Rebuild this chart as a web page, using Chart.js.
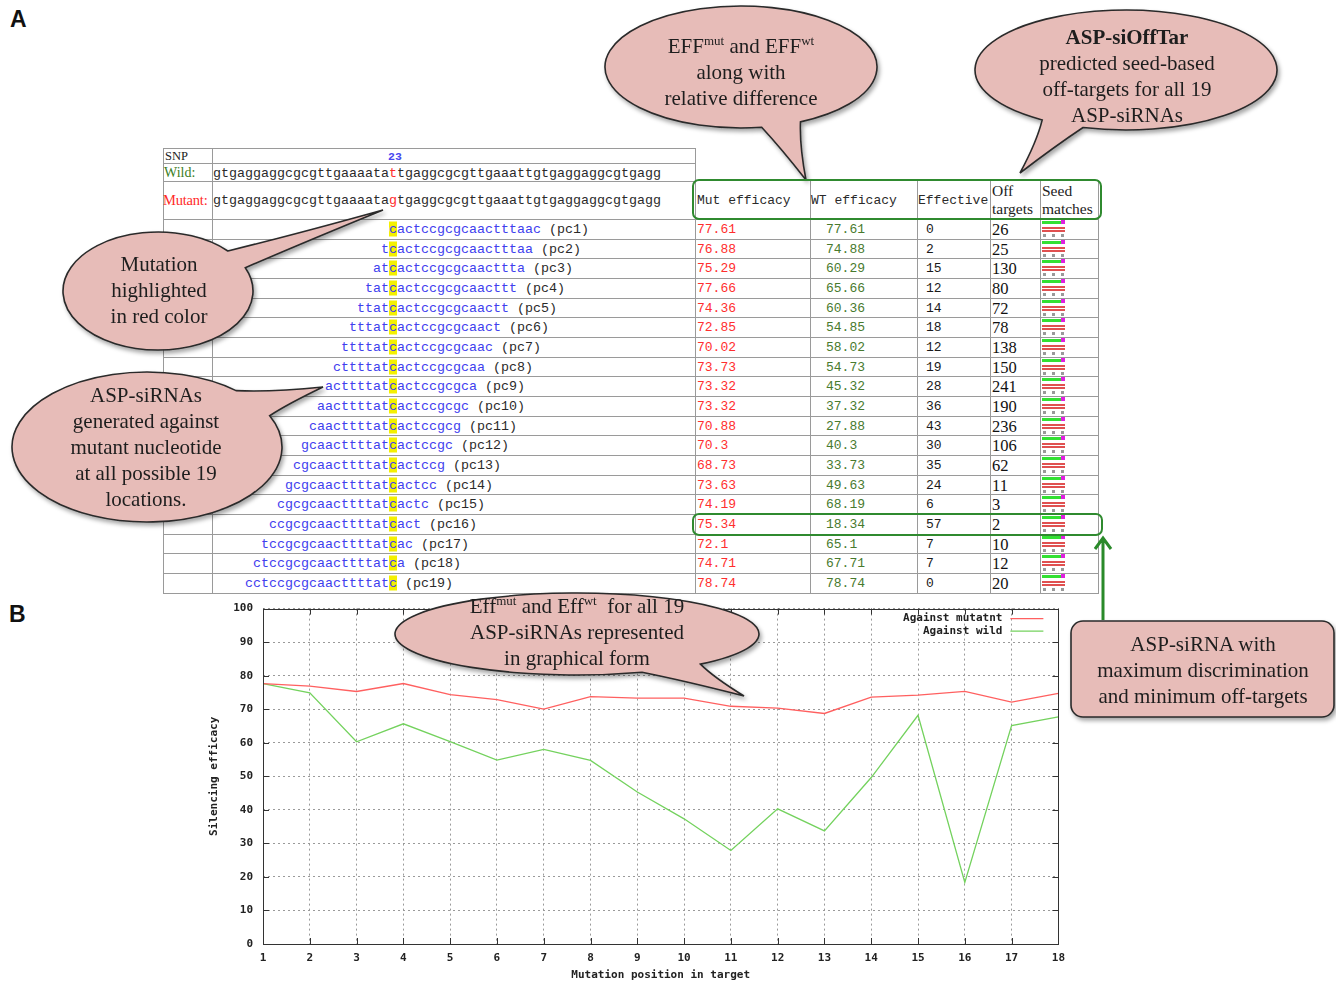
<!DOCTYPE html>
<html>
<head>
<meta charset="utf-8">
<script src="https://cdn.jsdelivr.net/npm/chart.js@4.4.1/dist/chart.umd.min.js"></script>
<style>
  html, body { margin: 0; padding: 0; background: #fff; }
  #fig { position: relative; width: 1336px; height: 982px; overflow: hidden;
         font-family: "Liberation Serif", "Times New Roman", serif; color: #222; }
  .abs { position: absolute; white-space: nowrap; }
  .line { position: absolute; background: #9a9a9a; }
  .mono { font-family: "Liberation Mono", "Courier New", monospace; }
  .panel { font-family: "Liberation Sans", Arial, sans-serif; font-weight: bold; font-size: 23px; color: #111; }
  .bubble { position: absolute; text-align: center; font-size: 21px; line-height: 26px; color: #1e1e1e; white-space: nowrap; }
  .bubble sup { font-size: 13px; vertical-align: 8px; line-height: 0; }
  #chartWrap { position: absolute; left: 200px; top: 592px; width: 873px; height: 390px; }
  #overlay { position: absolute; left: 0; top: 0; }
  .seed { position: absolute; width: 25px; height: 18px; }
  .seed .g { position: absolute; left: 1px; top: 1px; width: 19px; height: 3px; background: #33e033; }
  .seed .m { position: absolute; left: 20px; top: 0px; width: 4px; height: 4px; background: #e020e0; }
  .seed .r1 { position: absolute; left: 1px; top: 7px; width: 23px; height: 2px; background: #e05050; }
  .seed .r2 { position: absolute; left: 1px; top: 10px; width: 23px; height: 2px; background: #e05050; }
  .seed .d { position: absolute; top: 14px; width: 3px; height: 3px; background: #999; }
</style>
</head>
<body>
<div id="fig">
  <div class="abs panel" style="left:10px; top:6px;">A</div>
  <div class="abs panel" style="left:9px; top:601px;">B</div>
  <div id="table"></div>
  <div id="chartWrap"><canvas id="chart" width="873" height="390"></canvas></div>
  <svg id="overlay" width="1336" height="982"></svg>
  <div id="texts"></div>
</div>

<script>
// ---- data ----
const positions = ['1','2','3','4','5','6','7','8','9','10','11','12','13','14','15','16','17','18'];
const siRNAs = [
  'cactccgcgcaactttaac', 'tcactccgcgcaactttaa', 'atcactccgcgcaacttta', 'tatcactccgcgcaacttt',
  'ttatcactccgcgcaactt', 'tttatcactccgcgcaact', 'ttttatcactccgcgcaac', 'cttttatcactccgcgcaa',
  'acttttatcactccgcgca', 'aacttttatcactccgcgc', 'caacttttatcactccgcg', 'gcaacttttatcactccgc',
  'cgcaacttttatcactccg', 'gcgcaacttttatcactcc', 'cgcgcaacttttatcactc', 'ccgcgcaacttttatcact',
  'tccgcgcaacttttatcac', 'ctccgcgcaacttttatca', 'cctccgcgcaacttttatc'
];
const mutEff = [77.61, 76.88, 75.29, 77.66, 74.36, 72.85, 70.02, 73.73, 73.32, 73.32,
                70.88, 70.3, 68.73, 73.63, 74.19, 75.34, 72.1, 74.71, 78.74];
const wtEff  = [77.61, 74.88, 60.29, 65.66, 60.36, 54.85, 58.02, 54.73, 45.32, 37.32,
                27.88, 40.3, 33.73, 49.63, 68.19, 18.34, 65.1, 67.71, 78.74];
const effective  = [0, 2, 15, 12, 14, 18, 12, 19, 28, 36, 43, 30, 35, 24, 6, 57, 7, 7, 0];
const offTargets = [26, 25, 130, 80, 72, 78, 138, 150, 241, 190, 236, 106, 62, 11, 3, 2, 10, 12, 20];
const snpPos = 23;
const wildSeq   = 'gtgaggaggcgcgttgaaaatattgaggcgcgttgaaattgtgaggaggcgtgagg';
const mutantSeq = 'gtgaggaggcgcgttgaaaatagtgaggcgcgttgaaattgtgaggaggcgtgagg';
const yTicks = [0, 10, 20, 30, 40, 50, 60, 70, 80, 90, 100];

// ---- table (panel A) ----
const tbl = document.getElementById('table');
const L = { x0: 163, xSeq: 212, xMid: 695, cols: [810, 917, 990, 1040], xR: 1098,
            yTop: 148, ySnp: 163, yWild: 181, yHead: 180, yRows: 219, rowH: 19.67,
            charW: 8, hlX: 389 };
const nRows = siRNAs.length;
const yBot = L.yRows + nRows * L.rowH;

function hline(x1, x2, y) { const d = document.createElement('div'); d.className = 'line';
  d.style.cssText = `left:${x1}px;top:${Math.round(y)}px;width:${x2 - x1}px;height:1px`; tbl.appendChild(d); }
function vline(x, y1, y2) { const d = document.createElement('div'); d.className = 'line';
  d.style.cssText = `left:${x}px;top:${Math.round(y1)}px;width:1px;height:${Math.round(y2 - y1)}px`; tbl.appendChild(d); }
function text(html, x, yc, style, cls) { const d = document.createElement('div');
  d.className = 'abs ' + (cls || ''); d.innerHTML = html;
  d.style.cssText = `left:${x}px;top:${yc}px;transform:translateY(-50%);` + (style || ''); tbl.appendChild(d); return d; }

hline(L.x0, L.xMid, L.yTop); hline(L.x0, L.xMid, L.ySnp); hline(L.x0, L.xMid, L.yWild);
hline(L.xMid, L.xR, L.yHead);
for (let i = 0; i <= nRows; i++) hline(L.x0, L.xR + 1, L.yRows + i * L.rowH);
vline(L.x0, L.yTop, yBot); vline(L.xSeq, L.yTop, yBot); vline(L.xMid, L.yTop, yBot);
L.cols.forEach(x => vline(x, L.yHead, yBot)); vline(L.xR, L.yHead, yBot + 1);

const seqFont = 'font-size:13.33px;line-height:15px;';
text('SNP', 165, 156, 'font-size:12.5px;color:#222;');
text(String(snpPos), L.xSeq + 1 + (snpPos - 1) * L.charW - 1, 156, 'font-size:11.5px;font-weight:bold;color:#4848f0;', 'mono');
text('Wild:', 164, 172.5, 'font-size:14px;color:#3a7d1e;');
text('Mutant:', 163, 200, 'font-size:14.5px;color:#ff2a2a;letter-spacing:-0.2px;');
function seqHtml(s, pos, col) {
  return s.slice(0, pos - 1) + `<span style="color:${col}">${s[pos - 1]}</span>` + s.slice(pos);
}
text(seqHtml(wildSeq, snpPos, '#ff2a2a'), L.xSeq + 1, 172.5, seqFont + 'color:#2a2a2a;', 'mono');
text(seqHtml(mutantSeq, snpPos, '#ff2a2a'), L.xSeq + 1, 200, seqFont + 'color:#2a2a2a;', 'mono');

// column headings
const hY = 200;
text('Mut efficacy', 697, hY, 'font-size:13px;color:#2a2a2a;', 'mono');
text('WT efficacy', 811, hY, 'font-size:13px;color:#2a2a2a;', 'mono');
text('Effective', 918, hY, 'font-size:13px;color:#2a2a2a;', 'mono');
text('Off<br>targets', 992, hY, 'font-size:15.5px;line-height:18px;color:#222;');
text('Seed<br>matches', 1042, hY, 'font-size:15.5px;line-height:18px;color:#222;');

siRNAs.forEach((s, i) => {
  const yc = L.yRows + (i + 0.5) * L.rowH;
  const x = L.hlX - i * L.charW;
  const html = `<span style="color:#4040ee">${s.slice(0, i)}</span>` +
    `<span style="color:#4040ee;background:#f4f000">${s[i]}</span>` +
    `<span style="color:#4040ee">${s.slice(i + 1)}</span>` +
    `<span style="color:#2a2a2a"> (pc${i + 1})</span>`;
  text(html, x, yc, seqFont, 'mono');
  text(String(mutEff[i]), 697, yc, 'font-size:13px;color:#ff2e2e;', 'mono');
  text(String(wtEff[i]), 826, yc, 'font-size:13px;color:#487a2e;', 'mono');
  text(String(effective[i]), 926, yc, 'font-size:13px;color:#1a1a1a;', 'mono');
  text(String(offTargets[i]), 992, yc + 1, 'font-size:16.5px;color:#111;');
  const sd = document.createElement('div'); sd.className = 'seed';
  sd.style.left = '1041px'; sd.style.top = Math.round(yc - 9) + 'px';
  sd.innerHTML = '<div class="g"></div><div class="m"></div><div class="r1"></div><div class="r2"></div>' +
    '<div class="d" style="left:2px"></div><div class="d" style="left:11px"></div><div class="d" style="left:20px"></div>';
  tbl.appendChild(sd);
});

// ---- chart (panel B) ----
const plotFrame = {
  id: 'plotFrame',
  afterDatasetsDraw(chart) {
    const { ctx, chartArea: a, scales } = chart;
    ctx.save();
    ctx.strokeStyle = '#333'; ctx.lineWidth = 1;
    ctx.strokeRect(Math.round(a.left) + 0.5, Math.round(a.top) + 0.5,
                   Math.round(a.right - a.left), Math.round(a.bottom - a.top));
    ctx.beginPath();
    yTicks.forEach(v => { const y = Math.round(scales.y.getPixelForValue(v)) + 0.5;
      ctx.moveTo(a.left, y); ctx.lineTo(a.left + 6, y); ctx.moveTo(a.right, y); ctx.lineTo(a.right - 6, y); });
    positions.forEach((p, i) => { const x = Math.round(scales.x.getPixelForValue(i)) + 0.5;
      ctx.moveTo(x, a.bottom); ctx.lineTo(x, a.bottom - 6); ctx.moveTo(x, a.top); ctx.lineTo(x, a.top + 6); });
    ctx.stroke();
    // key, top right inside the plot
    ctx.font = 'bold 11px "DejaVu Sans Mono", monospace';
    ctx.textAlign = 'right'; ctx.textBaseline = 'middle';
    chart.data.datasets.forEach((ds, i) => {
      const y = a.top + 10 + i * 12.5;
      ctx.fillStyle = '#222';
      ctx.fillText(ds.label, a.right - 56, y);
      ctx.strokeStyle = ds.borderColor; ctx.lineWidth = 1.3;
      ctx.beginPath(); ctx.moveTo(a.right - 48, y); ctx.lineTo(a.right - 15, y); ctx.stroke();
    });
    ctx.restore();
  }
};

Chart.defaults.font.family = '"DejaVu Sans Mono", monospace';
new Chart(document.getElementById('chart'), {
  type: 'line',
  data: {
    labels: positions,
    datasets: [
      { label: 'Against mutatnt', data: mutEff.slice(0, positions.length),
        borderColor: '#ff6060', borderWidth: 1.3, pointRadius: 0, tension: 0, fill: false },
      { label: 'Against wild', data: wtEff.slice(0, positions.length),
        borderColor: '#74d25e', borderWidth: 1.3, pointRadius: 0, tension: 0, fill: false }
    ]
  },
  options: {
    responsive: false, animation: false, devicePixelRatio: 1,
    layout: { padding: { top: 5, right: 12, left: 0, bottom: 0 } },
    plugins: { legend: { display: false }, tooltip: { enabled: false } },
    scales: {
      x: {
        type: 'category', offset: false,
        grid: { color: '#9a9a9a', lineWidth: 1, drawTicks: false },
        border: { display: false, dash: [2, 3] },
        ticks: { color: '#222', padding: 8, autoSkip: false, maxRotation: 0,
                 font: { size: 11, weight: 'bold' } },
        title: { display: true, text: 'Mutation position in target', color: '#222',
                 padding: { top: 0, bottom: 0 }, font: { size: 11, weight: 'bold' } },
        afterFit(scale) { scale.height = 38; }
      },
      y: {
        min: 0, max: 100,
        grid: { color: '#9a9a9a', lineWidth: 1, drawTicks: false },
        border: { display: false, dash: [2, 3] },
        ticks: { stepSize: 10, color: '#222', padding: 10, font: { size: 11, weight: 'bold' } },
        title: { display: true, text: 'Silencing efficacy', color: '#222',
                 padding: { top: 8, bottom: 0 }, font: { size: 11, weight: 'bold' } },
        afterFit(scale) { scale.width = 63; }
      }
    }
  },
  plugins: [plotFrame]
});

// ---- callouts ----
const svg = document.getElementById('overlay');
const NS = 'http://www.w3.org/2000/svg';
svg.innerHTML = `<defs><filter id="sh" x="-20%" y="-20%" width="140%" height="150%">
  <feDropShadow dx="2" dy="3" stdDeviation="2" flood-color="#000" flood-opacity="0.35"/></filter></defs>`;
const FILL = '#e7bcb8', STROKE = '#2a2a2a';

function ellipseCallout(cx, cy, rx, ry, tx, ty, d1, d2) {
  const th = Math.atan2((ty - cy) / ry, (tx - cx) / rx);
  const p = a => [cx + rx * Math.cos(a), cy + ry * Math.sin(a)];
  const [x1, y1] = p(th - d1), [x2, y2] = p(th + d2);
  const mx1 = (x1 + tx) / 2, my1 = (y1 + ty) / 2, mx2 = (x2 + tx) / 2, my2 = (y2 + ty) / 2;
  // slightly concave tail edges
  const bend = 0.06;
  const c1 = [mx1 + (cx - mx1) * bend, my1 + (cy - my1) * bend];
  const c2 = [mx2 + (cx - mx2) * bend, my2 + (cy - my2) * bend];
  const path = document.createElementNS(NS, 'path');
  path.setAttribute('d', `M${x1},${y1} Q${c1[0]},${c1[1]} ${tx},${ty} Q${c2[0]},${c2[1]} ${x2},${y2} A${rx},${ry} 0 1 1 ${x1},${y1} Z`);
  path.setAttribute('fill', FILL); path.setAttribute('stroke', STROKE);
  path.setAttribute('stroke-width', '1.6'); path.setAttribute('filter', 'url(#sh)');
  svg.appendChild(path);
}
ellipseCallout(741, 67, 136, 61, 806, 180, 0.20, 0.10);
ellipseCallout(1126, 70, 151, 60, 1020, 173, 0.10, 0.20);
ellipseCallout(158, 291, 95, 59, 383, 210, 0.22, 0.12);
ellipseCallout(147, 447, 135, 75, 323, 387, 0.30, 0.12);
ellipseCallout(577, 634, 182, 41, 744, 696, 0.20, 0.18);

const rect = document.createElementNS(NS, 'rect');
Object.entries({ x: 1071, y: 621, width: 263, height: 96, rx: 12, fill: FILL, stroke: STROKE,
  'stroke-width': 1.6, filter: 'url(#sh)' }).forEach(([k, v]) => rect.setAttribute(k, v));
svg.appendChild(rect);

// green highlight boxes and arrow
function greenBox(x, y, w, h) {
  const r = document.createElementNS(NS, 'rect');
  Object.entries({ x, y, width: w, height: h, rx: 6, fill: 'none', stroke: '#2f8a2f', 'stroke-width': 2 })
    .forEach(([k, v]) => r.setAttribute(k, v));
  svg.appendChild(r);
}
greenBox(693, 180, 408, 39);
greenBox(693, 514, 409, 21);
const arrow = document.createElementNS(NS, 'path');
arrow.setAttribute('d', 'M1103,620 L1103,539 M1095,549 L1103,538 L1111,549');
arrow.setAttribute('fill', 'none'); arrow.setAttribute('stroke', '#2a8a2a'); arrow.setAttribute('stroke-width', '3');
svg.appendChild(arrow);

// callout wording
const texts = document.getElementById('texts');
function bubbleText(html, cx, top) {
  const d = document.createElement('div'); d.className = 'bubble'; d.innerHTML = html;
  d.style.left = cx + 'px'; d.style.top = top + 'px'; d.style.transform = 'translateX(-50%)';
  texts.appendChild(d);
}
bubbleText('EFF<sup>mut</sup> and EFF<sup>wt</sup><br>along with<br>relative difference', 741, 33);
bubbleText('<b>ASP-siOffTar</b><br>predicted seed-based<br>off-targets for all 19<br>ASP-siRNAs', 1127, 24);
bubbleText('Mutation<br>highlighted<br>in red color', 159, 251);
bubbleText('ASP-siRNAs<br>generated against<br>mutant nucleotide<br>at all possible 19<br>locations.', 146, 382);
bubbleText('Eff<sup>mut</sup> and Eff<sup>wt</sup>&nbsp; for all 19<br>ASP-siRNAs represented<br>in graphical form', 577, 593);
bubbleText('ASP-siRNA with<br>maximum discrimination<br>and minimum off-targets', 1203, 631);
</script>
</body>
</html>
